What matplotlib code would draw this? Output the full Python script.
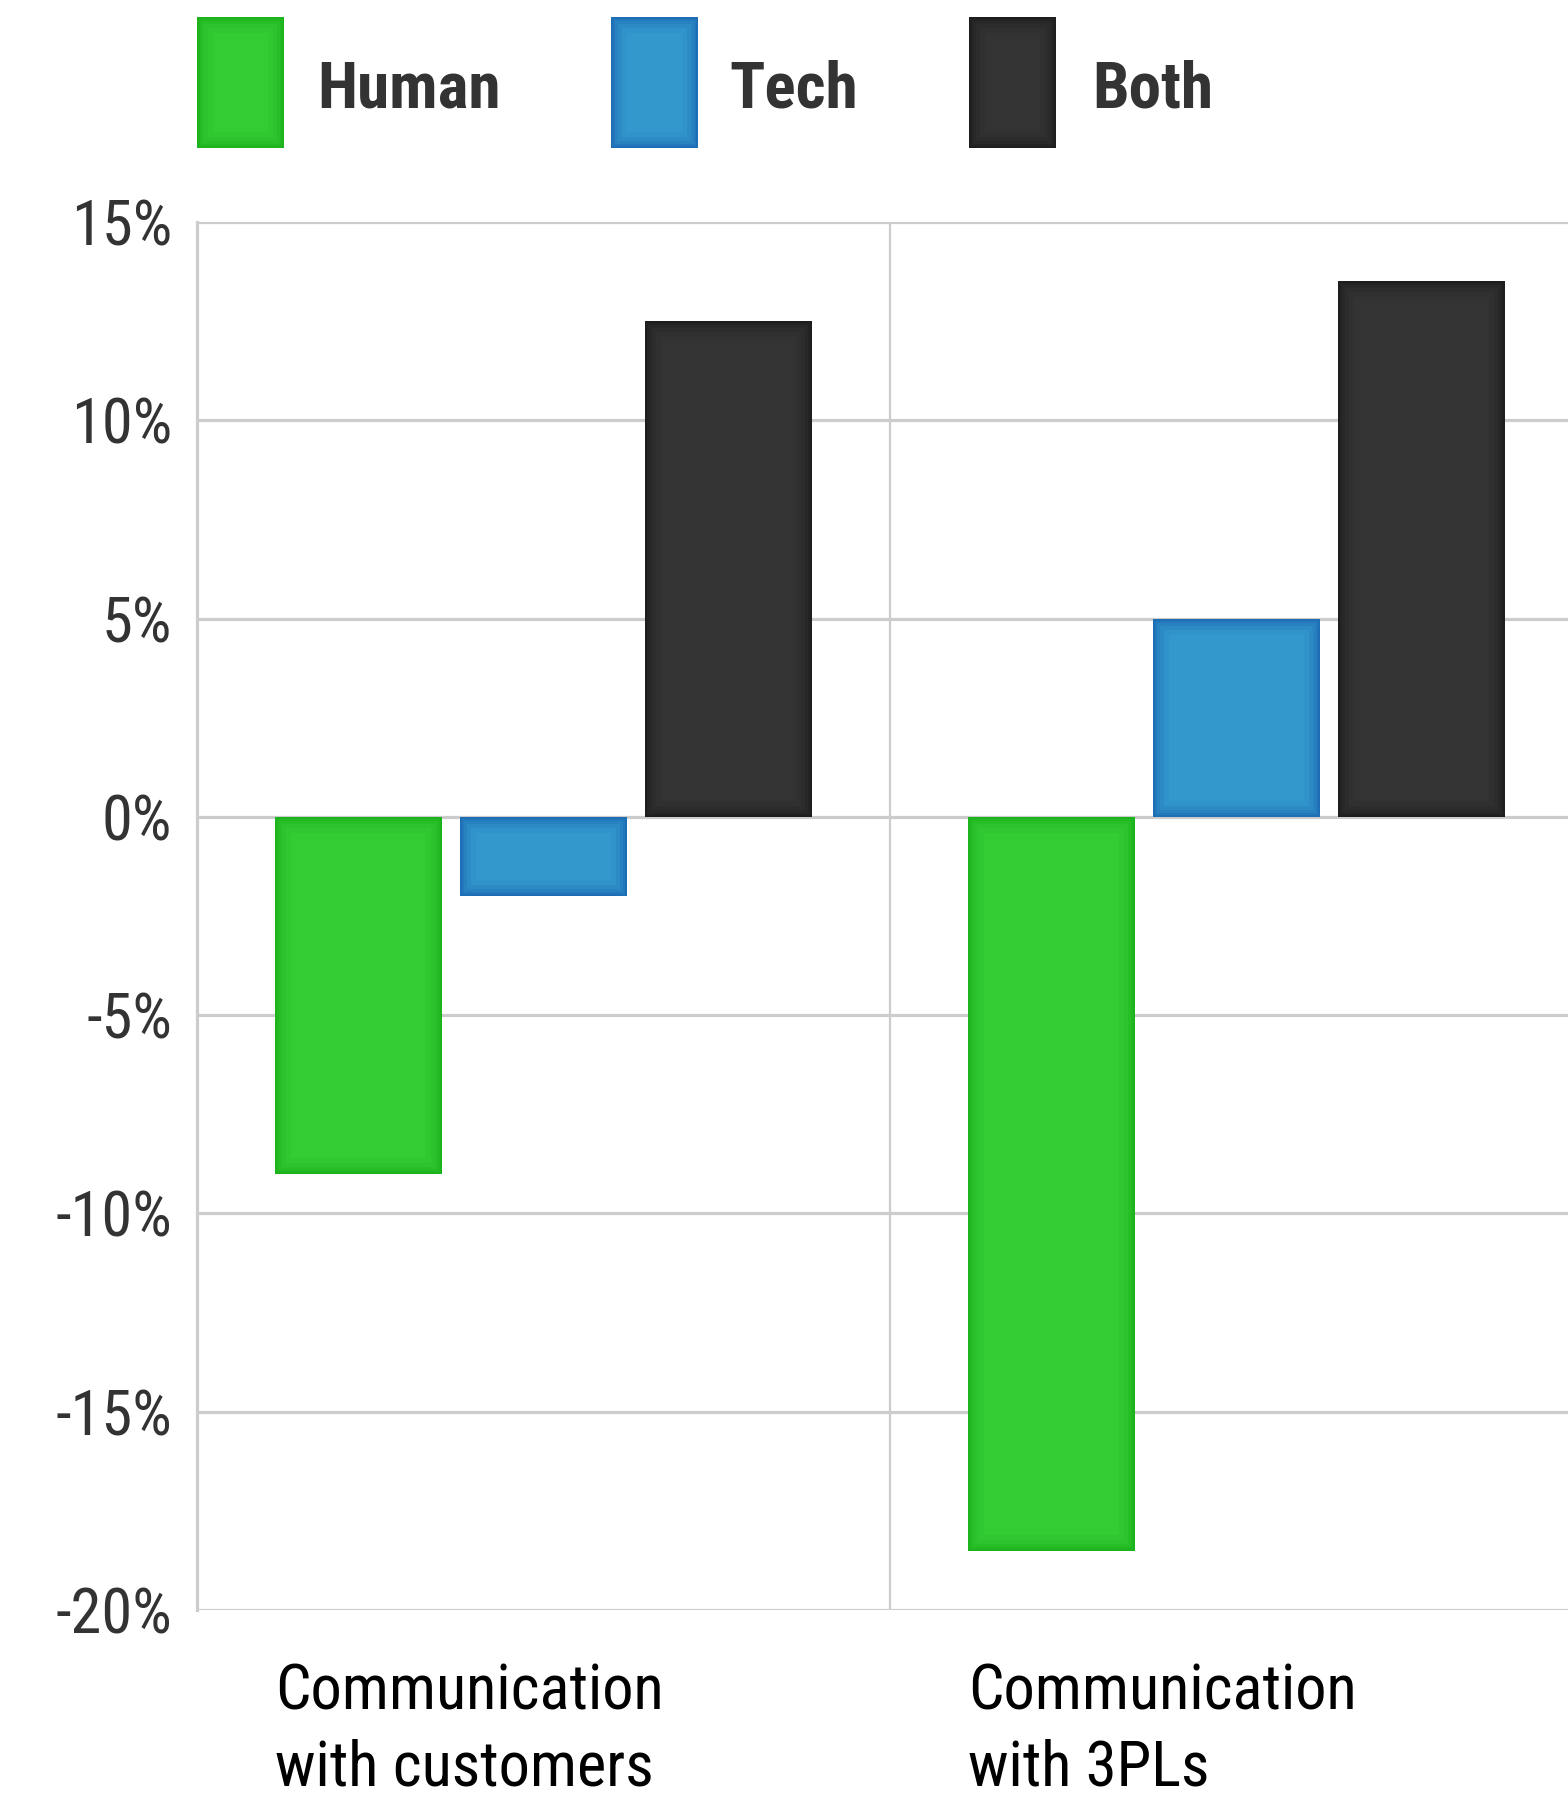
import numpy as np
import matplotlib.pyplot as plt
from matplotlib.patches import Rectangle

# data
categories = ["Communication\nwith customers", "Communication\nwith 3PLs"]
series = ["Human", "Tech", "Both"]
human = [-9.0, -18.5]
tech = [-2.0, 5.0]
both = [12.5, 13.5]
yticks = [-20, -15, -10, -5, 0, 5, 10, 15]
ytick_labels = [f"{v}%" for v in yticks]

face_colors = ["#33cc33", "#3399cc", "#333333"]
edge_colors = ["#16ad16", "#1a63b2", "#1a1a1a"]
grid_color = "#cccccc"
NARROW = ["Roboto Condensed", "Liberation Sans Narrow", "DejaVu Sans Condensed", "Roboto"]

W, H = 1568, 1793


def fx(px):
    return px / W


def fy(py):
    return 1 - py / H


def inner_glow(container, patch, color):
    """Soft darker rim painted inside a rectangle"""
    for width_px, alpha in [(16, 0.10), (11, 0.15), (7, 0.22), (4, 0.32), (2, 0.45)]:
        rim = Rectangle(patch.get_xy(), patch.get_width(), patch.get_height(),
                        fill=False, edgecolor=color, linewidth=width_px * 2 * 0.72,
                        alpha=alpha, transform=patch.get_data_transform(),
                        zorder=patch.get_zorder() + 0.1)
        container.add_artist(rim)
        rim.set_clip_path(patch)


fig = plt.figure(figsize=(W / 100, H / 100), dpi=100)
ax = fig.add_axes([fx(197), fy(1610), fx(W - 197), (1610 - 222) / H])

x = np.arange(len(categories))
bar_w = 0.24
offset = 0.267
values = [human, tech, both]
for k, vals in enumerate(values):
    bars = ax.bar(x + (k - 1) * offset, vals, width=bar_w, color=face_colors[k],
                  linewidth=0, zorder=3)
    for rect in bars:
        inner_glow(ax, rect, edge_colors[k])

ax.set_xlim(-0.5, -0.5 + (W - 197) / 693)
ax.set_ylim(-20, 15)
ax.set_yticks(yticks)
ax.set_yticklabels(ytick_labels, family=NARROW, fontsize=45, color="#333333")
ax.set_xticks([])
ax.tick_params(axis="y", length=0, pad=18)
ax.yaxis.grid(True, color=grid_color, linewidth=2.3)
ax.set_axisbelow(True)
ax.axvline(0.5, color=grid_color, linewidth=1.6, zorder=1)
for side in ["top", "right", "bottom"]:
    ax.spines[side].set_visible(False)
ax.spines["left"].set_color(grid_color)
ax.spines["left"].set_linewidth(2.3)

# category names under the groups, one text per line
px_per_unit = 1388 / 35
for i, name in enumerate(categories):
    for j, line in enumerate(name.split("\n")):
        ax.text(i - 0.387, -20 - (99 + 76 * j) / px_per_unit, line,
                family=NARROW, fontsize=45, color="#000000",
                ha="left", va="baseline", clip_on=False)

# legend across the top
key_x = [197, 611, 969]
label_x = [317, 729, 1092]
for k, name in enumerate(series):
    key = Rectangle((fx(key_x[k]), fy(148)), 87 / W, (148 - 17) / H,
                    transform=fig.transFigure, facecolor=face_colors[k],
                    linewidth=0)
    fig.add_artist(key)
    inner_glow(fig, key, edge_colors[k])
    fig.text(fx(label_x[k]), fy(107), name, family=NARROW, fontweight="bold",
             fontsize=47, color="#333333", ha="left", va="baseline")

fig.savefig("out.png", dpi=100)
